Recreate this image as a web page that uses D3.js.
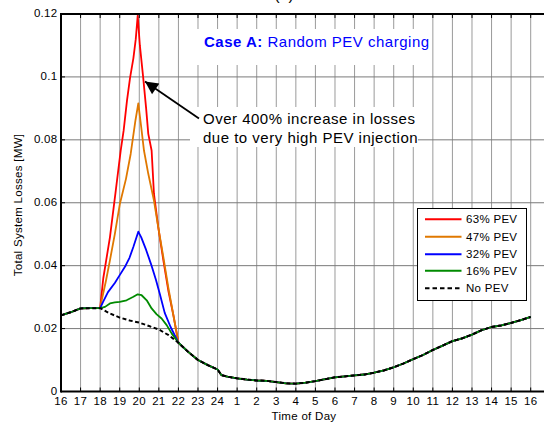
<!DOCTYPE html>
<html>
<head>
<meta charset="utf-8">
<script src="https://cdn.jsdelivr.net/npm/d3@7"></script>
<style>
  html, body { margin: 0; padding: 0; background: #fff; }
  svg { display: block; font-family: "Liberation Sans", Arial, Helvetica, sans-serif; }
</style>
</head>
<body>
<svg id="chart" width="544" height="423"></svg>
<script>
// Hours elapsed since 16:00 and the matching clock labels
const hourTicks = d3.range(0, 25);
const clockLabels = ["16","17","18","19","20","21","22","23","24","1","2","3","4","5","6","7","8","9","10","11","12","13","14","15","16"];
const lossTicks = [0, 0.02, 0.04, 0.06, 0.08, 0.1, 0.12];
const lossTickLabels = ["0", "0.02", "0.04", "0.06", "0.08", "0.1", "0.12"];

// Base case (no PEV): total system losses [MW]
const baseHours = [0,0.5,1,1.5,2,2.5,3,3.5,4,4.5,5,5.5,6,6.5,7,7.5,8,8.2,8.5,9,9.5,10,10.5,11,11.5,12,12.5,13,13.5,14,14.5,15,15.5,16,16.5,17,17.5,18,18.5,19,19.5,20,20.5,21,21.5,22,22.5,23,23.5,24];
const noPev = [0.0242,0.0252,0.0264,0.0265,0.0265,0.0248,0.0235,0.0226,0.0219,0.0208,0.0197,0.0179,0.0155,0.0126,0.0100,0.0084,0.0070,0.0052,0.0047,0.0042,0.0038,0.0035,0.0034,0.0030,0.0026,0.0025,0.0028,0.0033,0.0039,0.0045,0.0048,0.0051,0.0054,0.0060,0.0067,0.0077,0.0089,0.0103,0.0116,0.0132,0.0146,0.0160,0.0169,0.0181,0.0195,0.0205,0.0210,0.0218,0.0227,0.0237];

// Charging window (18:00 - 22:00) for each penetration level
const pev63Hours = [2,2.16,2.5,2.8,3.05,3.2,3.37,3.53,3.7,3.82,3.92,4.03,4.2,4.35,4.46,4.63,4.75,4.97,5.23,5.48,5.75,6];
const pev63 = [0.0265,0.036,0.049,0.0639,0.0766,0.0829,0.0924,0.0998,0.106,0.112,0.1195,0.110,0.0998,0.090,0.0819,0.0766,0.0628,0.0522,0.0417,0.0322,0.024,0.0155];

const pev47Hours = [2,2.08,2.3,2.5,2.75,3.01,3.32,3.56,3.8,3.95,4.1,4.24,4.46,4.75,4.97,5.23,5.48,5.75,6];
const pev47 = [0.0265,0.029,0.0353,0.0417,0.050,0.0597,0.0676,0.0755,0.086,0.0916,0.084,0.0766,0.0692,0.0607,0.0522,0.0427,0.0332,0.024,0.0155];

const pev32Hours = [2,2.15,2.4,2.75,3.0,3.3,3.5,3.7,3.95,4.1,4.35,4.6,4.85,5.05,5.3,5.6,6];
const pev32 = [0.0265,0.0285,0.0316,0.0345,0.0370,0.0400,0.0425,0.0460,0.0508,0.0490,0.0450,0.0405,0.0355,0.0310,0.0250,0.0205,0.0155];

const pev16Hours = [2,2.25,2.5,2.75,3.0,3.35,3.7,3.92,4.12,4.38,4.63,4.89,5.14,5.4,5.66,6];
const pev16 = [0.0265,0.0269,0.0280,0.0283,0.0285,0.0290,0.0301,0.0309,0.0306,0.0290,0.0264,0.0245,0.0232,0.0211,0.0184,0.0155];

const seriesNames = ["63% PEV", "47% PEV", "32% PEV", "16% PEV", "No PEV"];
const seriesColors = ["#ff0000", "#e07800", "#0000ff", "#008a00", "#000000"];

// Outside the charging window every case follows the base curve
function withBase(hours, values) {
  const start = hours[0], end = hours[hours.length - 1];
  const pts = [];
  baseHours.forEach((h, i) => { if (h < start) pts.push([h, noPev[i]]); });
  hours.forEach((h, i) => pts.push([h, values[i]]));
  baseHours.forEach((h, i) => { if (h > end) pts.push([h, noPev[i]]); });
  return pts;
}

const series = [
  withBase(pev63Hours, pev63),
  withBase(pev47Hours, pev47),
  withBase(pev32Hours, pev32),
  withBase(pev16Hours, pev16),
  baseHours.map((h, i) => [h, noPev[i]])
];

const svg = d3.select("#chart");
const plotL = 61, plotT = 14, plotB = 391.5, plotR = 548;

const x = d3.scaleLinear().domain([0, 24]).range([plotL, 530.7]);
const y = d3.scaleLinear().domain([0, 0.12]).range([plotB, plotT]);

const smallFont = "11.5px";
const spacing = "0.3px";

// Grid
const grid = svg.append("g");
grid.selectAll("line.v").data(hourTicks.slice(1)).join("line")
  .attr("class", "v")
  .attr("x1", d => x(d)).attr("x2", d => x(d))
  .attr("y1", plotT).attr("y2", plotB)
  .attr("stroke", "#9a9a9a").attr("stroke-width", 1);
grid.selectAll("line.h").data(lossTicks.slice(1)).join("line")
  .attr("class", "h")
  .attr("x1", plotL).attr("x2", plotR)
  .attr("y1", d => y(d)).attr("y2", d => y(d))
  .attr("stroke", "#7a7a7a").attr("stroke-width", 1);

// Loss curves
const line = d3.line().x(d => x(d[0])).y(d => y(d[1]));
series.forEach((pts, i) => {
  const p = svg.append("path").datum(pts)
    .attr("d", line)
    .attr("fill", "none")
    .attr("stroke", seriesColors[i])
    .attr("stroke-width", i === 4 ? 2 : 1.8)
    .attr("stroke-linejoin", "round");
  if (i === 4) p.attr("stroke-dasharray", "4,2.5");
});

// Text boxes with white background
svg.append("rect").attr("x", 193).attr("y", 29).attr("width", 237).attr("height", 36).attr("fill", "#fff");
svg.append("rect").attr("x", 190).attr("y", 107).attr("width", 228).attr("height", 40).attr("fill", "#fff");

const title = svg.append("text")
  .attr("x", 204).attr("y", 47)
  .attr("fill", "#0000ff")
  .style("font-size", "15px").style("letter-spacing", "0.5px");
title.append("tspan").attr("font-weight", "bold").text("Case A:");
title.append("tspan").text(" Random PEV charging");

const note = svg.append("text")
  .attr("fill", "#000")
  .style("font-size", "15px").style("letter-spacing", "0.5px");
note.append("tspan").attr("x", 203).attr("y", 123.5).text("Over 400% increase in losses");
note.append("tspan").attr("x", 203).attr("y", 143).text("due to very high PEV injection");

// Arrow pointing at the 63% peak
svg.append("defs").append("marker")
  .attr("id", "head").attr("viewBox", "0 0 10 10")
  .attr("refX", 10).attr("refY", 5)
  .attr("markerUnits", "userSpaceOnUse")
  .attr("markerWidth", 17).attr("markerHeight", 13)
  .attr("orient", "auto")
  .append("path").attr("d", "M0,0 L10,5 L0,10 Z").attr("fill", "#000");
svg.append("line")
  .attr("x1", 199).attr("y1", 118.5).attr("x2", 145).attr("y2", 81.5)
  .attr("stroke", "#000").attr("stroke-width", 1.8)
  .attr("marker-end", "url(#head)");

// Panel tag above the frame
svg.append("text").attr("x", 284).attr("y", 0)
  .attr("text-anchor", "middle").style("font-size", "16px").text("(a)");

// Axis frame
svg.append("line").attr("x1", plotL).attr("x2", plotR).attr("y1", plotT).attr("y2", plotT)
  .attr("stroke", "#000").attr("stroke-width", 2);
svg.append("line").attr("x1", plotL).attr("x2", plotR).attr("y1", plotB).attr("y2", plotB)
  .attr("stroke", "#000").attr("stroke-width", 2);
svg.append("line").attr("x1", plotL).attr("x2", plotL).attr("y1", plotT - 1).attr("y2", plotB + 1)
  .attr("stroke", "#000").attr("stroke-width", 2);

// Inward tick marks
const ticks = svg.append("g").attr("stroke", "#000").attr("stroke-width", 1);
hourTicks.forEach(t => {
  ticks.append("line").attr("x1", x(t)).attr("x2", x(t)).attr("y1", plotB).attr("y2", plotB - 4);
  ticks.append("line").attr("x1", x(t)).attr("x2", x(t)).attr("y1", plotT).attr("y2", plotT + 4);
});
lossTicks.forEach(v => {
  ticks.append("line").attr("x1", plotL).attr("x2", plotL + 4).attr("y1", y(v)).attr("y2", y(v));
});

// Tick labels
svg.append("g").selectAll("text").data(hourTicks).join("text")
  .attr("x", d => x(d)).attr("y", 404.5)
  .attr("text-anchor", "middle")
  .style("font-size", smallFont).style("letter-spacing", spacing)
  .text((d, i) => clockLabels[i]);
svg.append("g").selectAll("text").data(lossTicks).join("text")
  .attr("x", 57.5).attr("y", d => y(d)).attr("dy", "0.3em")
  .attr("text-anchor", "end")
  .style("font-size", smallFont).style("letter-spacing", spacing)
  .text((d, i) => lossTickLabels[i]);

// Axis titles
svg.append("text").attr("x", 304).attr("y", 420)
  .attr("text-anchor", "middle")
  .style("font-size", smallFont).style("letter-spacing", spacing)
  .text("Time of Day");
svg.append("text")
  .attr("transform", "translate(22,205) rotate(-90)")
  .attr("text-anchor", "middle")
  .style("font-size", smallFont).style("letter-spacing", spacing)
  .text("Total System Losses [MW]");

// Legend
const lg = svg.append("g");
lg.append("rect").attr("x", 417.5).attr("y", 208.5).attr("width", 109).attr("height", 92)
  .attr("fill", "#fff").attr("stroke", "#000").attr("stroke-width", 1);
const rowY = [219.3, 236.7, 254.3, 270.7, 288.3];
seriesNames.forEach((name, i) => {
  const l = lg.append("line").attr("x1", 425).attr("x2", 461.5)
    .attr("y1", rowY[i]).attr("y2", rowY[i])
    .attr("stroke", seriesColors[i]).attr("stroke-width", 2);
  if (i === 4) l.attr("stroke-dasharray", "4.5,3");
  lg.append("text").attr("x", 466).attr("y", rowY[i]).attr("dy", "0.36em")
    .style("font-size", smallFont).style("letter-spacing", spacing)
    .text(name);
});
</script>
</body>
</html>
